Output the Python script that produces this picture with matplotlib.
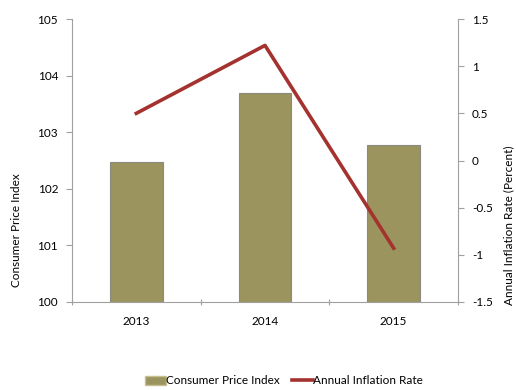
import numpy as np
import matplotlib.pyplot as plt

years = ['2013', '2014', '2015']
cpi = [102.47, 103.7, 102.78]
inflation = [0.5, 1.22, -0.93]

plt.rcParams['font.family'] = ['Lato', 'DejaVu Sans']
plt.rcParams['font.size'] = 8.5

fig = plt.figure(figsize=(5.16, 3.9), dpi=100)
ax = fig.add_axes([72/516, 88/390, 386/516, 283/390])
ax2 = ax.twinx()

x = np.arange(len(years))
ax.bar(x, [v - 100 for v in cpi], bottom=100, width=0.41, color='#9c945e',
       edgecolor='#8a8a80', linewidth=0.8, zorder=2)
ax2.plot(x, inflation, color='#a4322f', linewidth=2.6, zorder=3)

ax.set_xlim(-0.5, 2.5)
ax.set_ylim(100, 105)
ax.set_yticks(range(100, 106))
ax2.set_ylim(-1.5, 1.5)
ax2.set_yticks([-1.5, -1, -0.5, 0, 0.5, 1, 1.5])
ax2.set_yticklabels(['-1.5', '-1', '-0.5', '0', '0.5', '1', '1.5'])

ax.set_xticks([-0.5, 0.5, 1.5, 2.5])
ax.set_xticklabels([])
ax.set_xticks(x, minor=True)
ax.set_xticklabels(years, minor=True)
ax.tick_params(axis='x', which='minor', length=0, pad=10)
ax.tick_params(axis='x', which='major', length=5, direction='inout', color='#a0a0a0')
ax.tick_params(axis='y', length=4, color='#a0a0a0', pad=6)
ax2.tick_params(axis='y', length=4, color='#a0a0a0', pad=6)

for a in (ax, ax2):
    a.spines['top'].set_visible(False)
    for s in ('left', 'right', 'bottom'):
        a.spines[s].set_color('#a0a0a0')
ax.spines['right'].set_visible(False)
ax2.spines['left'].set_visible(False)
ax2.spines['bottom'].set_visible(False)

fig.text(17/516, 160/390, 'Consumer Price Index', rotation=90,
         ha='center', va='center', fontsize=8.5)
fig.text(509/516, 165/390, 'Annual Inflation Rate (Percent)', rotation=90,
         ha='center', va='center', fontsize=8.5)

h1 = plt.Rectangle((0, 0), 1, 1, color='#9c945e', ec='#c8c090')
h2 = plt.Line2D([], [], color='#a4322f', linewidth=2.6)
fig.legend([h1, h2], ['Consumer Price Index', 'Annual Inflation Rate'],
           loc='center', bbox_to_anchor=(284/516, 9/390), ncol=2, frameon=False,
           handlelength=1.8, handletextpad=0.0, columnspacing=1.0, fontsize=8.5)

fig.savefig('out.png', dpi=100)
